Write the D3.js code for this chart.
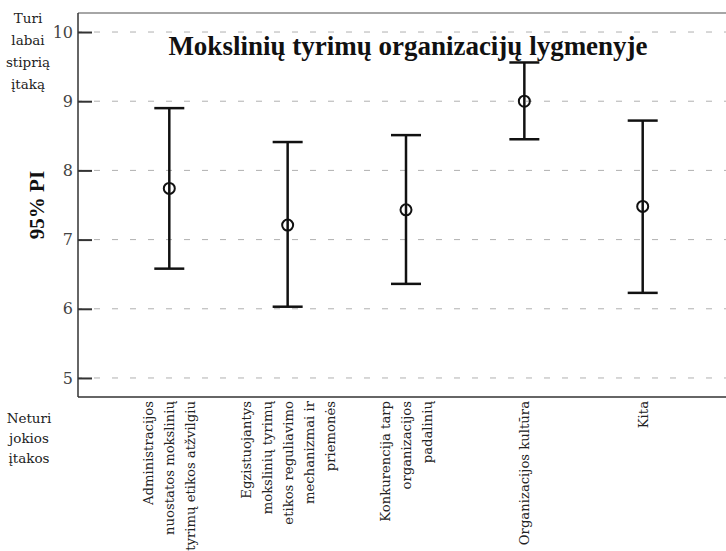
<!DOCTYPE html>
<html>
<head>
<meta charset="utf-8">
<script src="https://cdn.jsdelivr.net/npm/d3@7"></script>
<style>
  body { margin: 0; background: #fff; }
  svg { display: block; }
</style>
</head>
<body>
<svg id="chart" width="726" height="551"></svg>
<script>
// category labels, already split into lines
var categories = [
  ["Administracijos", "nuostatos mokslinių", "tyrimų etikos atžvilgiu"],
  ["Egzistuojantys", "mokslinių tyrimų", "etikos reguliavimo", "mechanizmai ir", "priemonės"],
  ["Konkurencija tarp", "organizacijos", "padalinių"],
  ["Organizacijos kultūra"],
  ["Kita"]
];
var means = [7.74, 7.21, 7.43, 9.00, 7.48];
var lower = [6.58, 6.03, 6.36, 8.45, 6.23];
var upper = [8.90, 8.41, 8.51, 9.56, 8.72];
var yTicks = [5, 6, 7, 8, 9, 10];

var svg = d3.select("#chart");

var plot = { left: 78, right: 730, top: 13, bottom: 397 };

var yScale = d3.scaleLinear()
    .domain([4.725, 10.275])
    .range([plot.bottom, plot.top]);

var xScale = d3.scalePoint()
    .domain(d3.range(categories.length))
    .range([169.3, 642.7]);

// gridlines
svg.append("g")
  .selectAll("line")
  .data(yTicks)
  .enter()
  .append("line")
  .attr("x1", plot.left)
  .attr("x2", plot.right)
  .attr("y1", d => yScale(d))
  .attr("y2", d => yScale(d))
  .attr("stroke", "#b0b0b0")
  .attr("stroke-width", 1)
  .attr("stroke-dasharray", "6,12")
  .attr("stroke-dashoffset", -16);

// frame
svg.append("line")
  .attr("x1", plot.left).attr("x2", plot.right)
  .attr("y1", plot.top).attr("y2", plot.top)
  .attr("stroke", "#888").attr("stroke-width", 1.5);
svg.append("line")
  .attr("x1", plot.left).attr("x2", plot.right)
  .attr("y1", plot.bottom).attr("y2", plot.bottom)
  .attr("stroke", "#333").attr("stroke-width", 1.5);

// y axis, ticks pointing inward
var yAxis = svg.append("g")
  .attr("transform", `translate(${plot.left},0)`)
  .call(d3.axisLeft(yScale).tickValues(yTicks).tickSize(-14).tickPadding(5).tickFormat(d3.format("d")));
yAxis.select(".domain").remove();
yAxis.selectAll(".tick line").attr("stroke", "#333").attr("stroke-width", 2);
yAxis.selectAll(".tick text")
  .attr("font-family", "DejaVu Serif")
  .attr("font-size", 16)
  .attr("font-weight", 300)
  .attr("fill", "#444");

svg.append("line")
  .attr("x1", plot.left).attr("x2", plot.left)
  .attr("y1", plot.top).attr("y2", plot.bottom)
  .attr("stroke", "#333").attr("stroke-width", 1.5);

// error bars
var bars = svg.append("g")
  .selectAll("g")
  .data(means.map((m, i) => ({ i: i, mean: m, lo: lower[i], hi: upper[i] })))
  .enter()
  .append("g");

bars.append("line")
  .attr("x1", d => xScale(d.i)).attr("x2", d => xScale(d.i))
  .attr("y1", d => yScale(d.lo)).attr("y2", d => yScale(d.hi))
  .attr("stroke", "#111").attr("stroke-width", 2.5);
bars.append("line")
  .attr("x1", d => xScale(d.i) - 15).attr("x2", d => xScale(d.i) + 15)
  .attr("y1", d => yScale(d.hi)).attr("y2", d => yScale(d.hi))
  .attr("stroke", "#111").attr("stroke-width", 2.5);
bars.append("line")
  .attr("x1", d => xScale(d.i) - 15).attr("x2", d => xScale(d.i) + 15)
  .attr("y1", d => yScale(d.lo)).attr("y2", d => yScale(d.lo))
  .attr("stroke", "#111").attr("stroke-width", 2.5);
bars.append("circle")
  .attr("cx", d => xScale(d.i))
  .attr("cy", d => yScale(d.mean))
  .attr("r", 5.5)
  .attr("fill", "none")
  .attr("stroke", "#111")
  .attr("stroke-width", 2);

// category labels, rotated
var catLabels = svg.append("g")
  .selectAll("text")
  .data(categories)
  .enter()
  .append("text")
  .attr("transform", (d, i) => `translate(${xScale(i)},401) rotate(-90)`)
  .attr("text-anchor", "end")
  .attr("font-family", "DejaVu Serif")
  .attr("font-size", 13.2)
  .attr("fill", "#222");

catLabels.each(function(lines) {
  var n = lines.length;
  d3.select(this).selectAll("tspan")
    .data(lines)
    .enter()
    .append("tspan")
    .attr("x", 0)
    .attr("y", (l, j) => (j - (n - 1) / 2) * 21 + 5)
    .text(l => l);
});

// title
svg.append("text")
  .attr("x", 408)
  .attr("y", 55)
  .attr("text-anchor", "middle")
  .attr("font-family", "Liberation Serif")
  .attr("font-weight", "bold")
  .attr("font-size", 27)
  .attr("fill", "#111")
  .text("Mokslinių tyrimų organizacijų lygmenyje");

// y title
svg.append("text")
  .attr("transform", "translate(44,205) rotate(-90)")
  .attr("text-anchor", "middle")
  .attr("font-family", "Liberation Serif")
  .attr("font-weight", "bold")
  .attr("font-size", 21)
  .attr("fill", "#111")
  .text("95% PI");

// scale end notes
var topNote = ["Turi", "labai", "stiprią", "įtaką"];
var bottomNote = ["Neturi", "jokios", "įtakos"];

svg.append("g")
  .selectAll("text")
  .data(topNote)
  .enter()
  .append("text")
  .attr("x", 28)
  .attr("y", (d, i) => 23 + i * 22)
  .attr("text-anchor", "middle")
  .attr("font-family", "DejaVu Serif")
  .attr("font-size", 13.5)
  .attr("fill", "#222")
  .text(d => d);

svg.append("g")
  .selectAll("text")
  .data(bottomNote)
  .enter()
  .append("text")
  .attr("x", 29)
  .attr("y", (d, i) => 423 + i * 20)
  .attr("text-anchor", "middle")
  .attr("font-family", "DejaVu Serif")
  .attr("font-size", 13.5)
  .attr("fill", "#222")
  .text(d => d);
</script>
</body>
</html>
